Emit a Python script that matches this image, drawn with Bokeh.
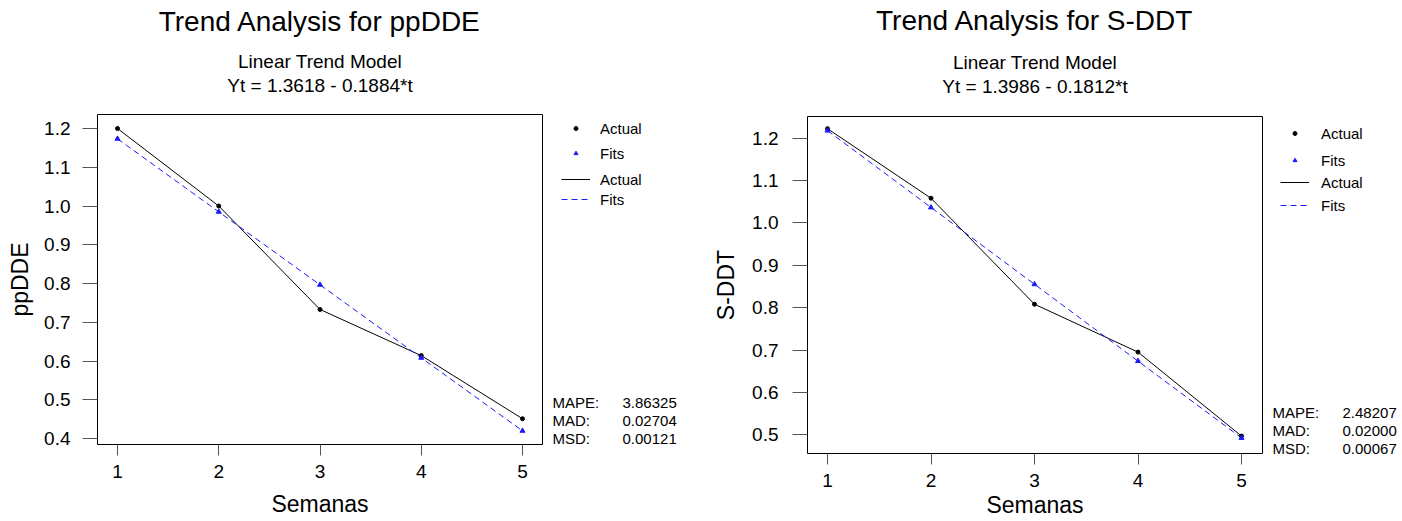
from bokeh.plotting import figure
from bokeh.models import Range1d, Label, Legend, LegendItem, FixedTicker, NumeralTickFormatter, Title
from bokeh.layouts import row, column
from bokeh.embed import file_html
from bokeh.resources import INLINE

FONT = "Liberation Sans"

# ---------------- data ----------------
semanas = [1, 2, 3, 4, 5]
ppdde_actual = [1.200, 1.000, 0.733, 0.614, 0.451]
ppdde_fits = [1.1734, 0.9850, 0.7966, 0.6082, 0.4198]
sddt_actual = [1.222, 1.058, 0.808, 0.695, 0.497]
sddt_fits = [1.2174, 1.0362, 0.8550, 0.6738, 0.4926]

x_ticks = [1, 2, 3, 4, 5]
ppdde_ticks = [0.4, 0.5, 0.6, 0.7, 0.8, 0.9, 1.0, 1.1, 1.2]
sddt_ticks = [0.5, 0.6, 0.7, 0.8, 0.9, 1.0, 1.1, 1.2]

stat_names = ["MAPE:", "MAD:", "MSD:"]
ppdde_stats = ["3.86325", "0.02704", "0.00121"]
sddt_stats = ["2.48207", "0.02000", "0.00067"]

ppdde_titles = ["Trend Analysis for ppDDE", "Linear Trend Model", "Yt = 1.3618 - 0.1884*t"]
sddt_titles = ["Trend Analysis for S-DDT", "Linear Trend Model", "Yt = 1.3986 - 0.1812*t"]

legend_labels = ["Actual", "Fits"]

BLUE = "#1a1aff"
H = 521
NAN = float("nan")


def spacer(so):
    return Title(text=" ", text_font=FONT, text_font_size="1px", standoff=so)


def make_panel(actual, fits, yticks, ylabel, titles, stats, g):
    fl, ft, fr, fb = g["frame"]
    W = fr + 3
    (xv1, xp1), (xv2, xp2) = g["xcal"]
    (yv1, yp1), (yv2, yp2) = g["ycal"]

    def px2x(px):
        return xv1 + (px - xp1) * (xv2 - xv1) / (xp2 - xp1)

    def px2y(py):
        return yv1 + (py - yp1) * (yv2 - yv1) / (yp2 - yp1)

    p = figure(width=W, height=H, output_backend="svg", toolbar_location=None,
               x_range=Range1d(px2x(fl), px2x(fr)), y_range=Range1d(px2y(fb), px2y(ft)),
               min_border_left=fl, min_border_right=W - fr,
               min_border_top=ft, min_border_bottom=H - fb)
    p.grid.visible = False
    p.outline_line_color = "black"
    p.outline_line_width = 1
    p.background_fill_color = "white"
    p.border_fill_color = "white"

    for ax in (p.xaxis[0], p.yaxis[0]):
        ax.axis_line_color = None
        ax.major_tick_in = 0
        ax.minor_tick_line_color = None
        ax.major_tick_line_color = "#555555"
        ax.major_label_text_font = FONT
        ax.major_label_text_font_size = "19px"
        ax.major_label_text_color = "black"
        ax.axis_label_text_font = FONT
        ax.axis_label_text_font_size = "23px"
        ax.axis_label_text_font_style = "normal"
        ax.axis_label_text_color = "black"
    p.xaxis.ticker = FixedTicker(ticks=x_ticks)
    p.xaxis.major_tick_out = 11
    p.xaxis.major_label_standoff = 9
    p.xaxis.axis_label = "Semanas"
    p.xaxis.axis_label_standoff = g["xlabstandoff"]
    p.yaxis.ticker = FixedTicker(ticks=yticks)
    p.yaxis.formatter = NumeralTickFormatter(format="0.0")
    p.yaxis.major_tick_out = 15
    p.yaxis.major_label_standoff = g["ystandoff"]
    p.yaxis.axis_label = ylabel
    p.yaxis.axis_label_standoff = g["ylabstandoff"]

    p.line(semanas, actual, line_color="black", line_width=1)
    p.line(semanas, fits, line_color=BLUE, line_width=1, line_dash="6 4")
    p.scatter(semanas, actual, marker="circle", size=4, color="black")
    p.scatter(semanas, fits, marker="triangle", size=5, color=BLUE)

    # titles: panels stack outward from the frame
    s_sp1, s_e, s_s, s_sp2, s_m = g["title_standoff"]
    main_t, sub_t, eq_t = titles
    p.add_layout(spacer(s_sp1), "above")
    p.add_layout(Title(text=eq_t, align="center", text_font=FONT, text_font_size="19px",
                       text_font_style="normal", text_color="black", standoff=s_e), "above")
    p.add_layout(Title(text=sub_t, align="center", text_font=FONT, text_font_size="19px",
                       text_font_style="normal", text_color="black", standoff=s_s), "above")
    p.add_layout(spacer(s_sp2), "above")
    p.add_layout(Title(text=main_t, align="center", text_font=FONT, text_font_size="28px",
                       text_font_style="normal", text_color="black", standoff=s_m), "above")

    # side figure with legend and statistics (pixel coordinates, y from top)
    qw = 701 - W
    q = figure(width=qw, height=H, output_backend="svg", toolbar_location=None,
               x_range=Range1d(0, qw), y_range=Range1d(H, 0),
               x_axis_location=None, y_axis_location=None,
               min_border=0, min_border_left=0, min_border_right=0,
               min_border_top=0, min_border_bottom=0)
    q.grid.visible = False
    q.outline_line_color = None
    q.background_fill_color = "white"
    q.border_fill_color = "white"

    # legend-only renderers (no visible data)
    d_ad = q.scatter([NAN], [NAN], marker="circle", size=4, color="black")
    d_fd = q.scatter([NAN], [NAN], marker="triangle", size=5, color=BLUE)
    d_al = q.line([NAN, NAN], [NAN, NAN], line_color="black", line_width=1)
    d_fl = q.line([NAN, NAN], [NAN, NAN], line_color=BLUE, line_width=1, line_dash="6 4")

    lx = g["leg_x"] - W
    for rends, top, sp, gh in [([d_ad, d_fd], g["leg1"][0], g["leg1"][1], 10),
                               ([d_al, d_fl], g["leg2"][0], g["leg2"][1], 20)]:
        h = 2 * 20 + sp
        items = [LegendItem(label=lab, renderers=[r]) for lab, r in zip(legend_labels, rends)]
        leg = Legend(items=items, location=(lx, H - top - h), padding=0, margin=0,
                     spacing=sp, glyph_width=29, glyph_height=gh, label_height=20,
                     label_standoff=g["leg_stand"], border_line_color=None,
                     background_fill_alpha=0, label_text_font=FONT,
                     label_text_font_size="15px", label_text_color="black")
        q.add_layout(leg)

    for name, val, py in zip(stat_names, stats, g["stat_y"]):
        q.add_layout(Label(x=g["stat_x"][0] - W, y=py, text=name, text_baseline="middle",
                           text_font=FONT, text_font_size="15px", text_color="black"))
        q.add_layout(Label(x=g["stat_x"][1] - W, y=py, text=val, text_baseline="middle",
                           text_font=FONT, text_font_size="15px", text_color="black"))
    return row(p, column(q))


g_left = dict(frame=(97, 114, 542, 444), xcal=((1, 117), (5, 522)), ycal=((1.2, 128), (0.4, 438)),
              ystandoff=12, ylabstandoff=8, xlabstandoff=10, title_standoff=[15, 2, 0, 5, 7],
              stat_x=(552, 622), stat_y=[402, 420, 438],
              leg_x=561, leg1=(118, 5), leg2=(169, 0), leg_stand=10)
g_right = dict(frame=(106, 116, 561, 453), xcal=((1, 126), (5, 540)), ycal=((1.2, 137.5), (0.5, 434.3)),
               ystandoff=14, ylabstandoff=10, xlabstandoff=2, title_standoff=[16, 2, 0, 8, 5],
               stat_x=(571, 641), stat_y=[412, 430, 448],
               leg_x=579, leg1=(123, 7), leg2=(172, 3), leg_stand=12)

left = make_panel(ppdde_actual, ppdde_fits, ppdde_ticks, "ppDDE", ppdde_titles, ppdde_stats, g_left)
right = make_panel(sddt_actual, sddt_fits, sddt_ticks, "S-DDT", sddt_titles, sddt_stats, g_right)

layout = row(left, right)
open("out.html", "w").write(file_html(layout, INLINE))
